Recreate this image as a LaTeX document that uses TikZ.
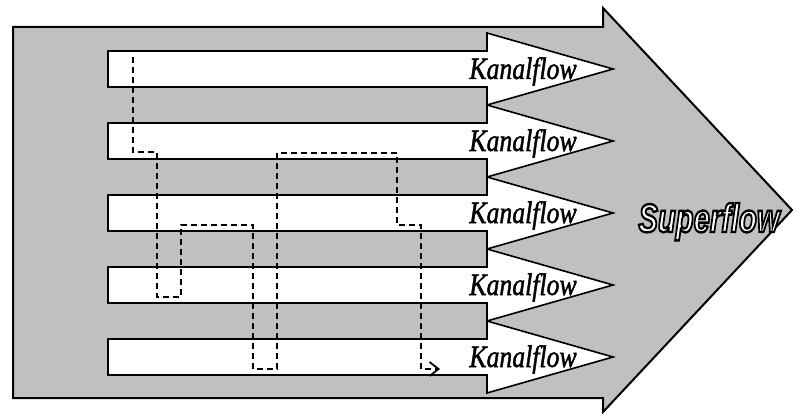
\documentclass[tikz,border=0pt]{standalone}
\usepackage{fontspec}
\setmainfont{Liberation Serif}
\setsansfont{Liberation Sans}
\usetikzlibrary{arrows.meta}

\definecolor{flowgray}{RGB}{192,192,192}

% text drawn as filled outline: #1 stroke width, #2 text
\newcommand\outlined[2]{\special{pdf:literal direct 0 0 0 RG 2 Tr #1 w}#2\special{pdf:literal direct 0 Tr}}

\tikzset{
  superarrow/.style={fill=flowgray, draw=black, line width=2pt},
  kanalarrow/.style={fill=white, draw=black, line width=1.6pt},
  kanaltext/.style={anchor=base, inner sep=0pt, font=\fontsize{31}{31}\selectfont\itshape},
  supertext/.style={anchor=base, inner sep=0pt, text=white, font=\fontsize{40}{40}\selectfont\sffamily\bfseries\itshape},
  route/.style={line width=1.8pt, dash pattern=on 6pt off 4pt, -{Straight Barb[length=9pt,width=14pt]}}
}

\begin{document}
\begin{tikzpicture}[x=1pt,y=-1pt]
\useasboundingbox (0,0) rectangle (794,414);

%draw the big superflow arrow
\draw[superarrow] (13,27) -- (603,27) -- (603,8) -- (792,210) -- (603,412) -- (603,398) -- (13,398) -- cycle;

%draw the five kanal arrows
\foreach \c [count=\i] in {69,141,213,285,357} {
  \draw[kanalarrow] (108,\c-18) -- (487,\c-18) -- (487,\c-36) -- (613,\c) -- (487,\c+36) -- (487,\c+18) -- (108,\c+18) -- cycle;
  \node[kanaltext] (kanal\i) at (523,\c+10) {\scalebox{0.83}[1]{\outlined{0.5}{Kanalflow}}};
}

%dashed route through the channels
\coordinate (start) at (133,57);
\coordinate (finish) at (440,369);
\draw[route] (start) -- (133,152) -- (157,152) -- (157,297) -- (181,297) -- (181,225) -- (253,225) -- (253,369) -- (277,369) -- (277,153) -- (397,153) -- (397,225) -- (421,225) -- (421,369) -- (finish);

%outlined superflow label
\node[supertext] (super) at (709,232) {\scalebox{0.73}[1]{\outlined{2.4}{Superflow}}};

\end{tikzpicture}
\end{document}
